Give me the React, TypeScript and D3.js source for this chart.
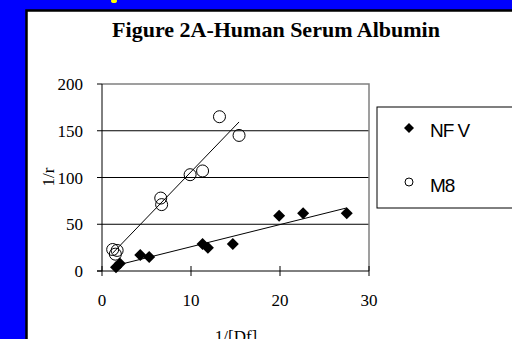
import React from "react";
import * as d3 from "d3";

// Series: NFV (filled diamonds) and M8 (open circles), double-reciprocal plot
const nfvX = [1.57, 2.0, 4.3, 5.3, 11.3, 11.9, 14.7, 19.9, 22.6, 27.5];
const nfvY = [4, 8, 17, 15, 29, 25, 29, 59, 61.7, 61.7];
const m8X = [1.2, 1.7, 1.5, 6.6, 6.7, 9.9, 11.3, 13.2, 15.4];
const m8Y = [23, 22, 18, 78, 71, 103, 107, 165, 145];

const xTicks = [0, 10, 20, 30];
const yTicks = [0, 50, 100, 150, 200];
const seriesNames = ["NF V", "M8"];

const W = 512;
const H = 339;

// ordinary least-squares fit, spanning the series' own x range
function fit(xs: number[], ys: number[]) {
  const mx = d3.mean(xs) as number;
  const my = d3.mean(ys) as number;
  let sxy = 0;
  let sxx = 0;
  xs.forEach((x, i) => {
    sxy += (x - mx) * (ys[i] - my);
    sxx += (x - mx) * (x - mx);
  });
  const b = sxy / sxx;
  const a = my - b * mx;
  const [x0, x1] = d3.extent(xs) as [number, number];
  return [
    [x0, a + b * x0],
    [x1, a + b * x1],
  ];
}

export default function App() {
  const x = d3.scaleLinear().domain([0, 30]).range([102, 369]);
  const y = d3.scaleLinear().domain([0, 200]).range([271, 84]);
  const line = d3
    .line<number[]>()
    .x((d) => x(d[0]))
    .y((d) => y(d[1]));

  const nfvFit = fit(nfvX, nfvY);
  const m8Fit = fit(m8X, m8Y);

  const serif = "'Liberation Serif', 'Times New Roman', serif";
  const sans = "'Liberation Sans', Arial, sans-serif";

  const diamond = (cx: number, cy: number, r: number) =>
    `M${cx},${cy - r}L${cx + r},${cy}L${cx},${cy + r}L${cx - r},${cy}Z`;

  return (
    <div style={{ position: "fixed", left: 0, top: 0 }}>
      <svg width={W} height={H} style={{ display: "block" }}>
        <rect x={0} y={0} width={W} height={H} fill="#0000ff" />
        <ellipse cx={114} cy={1} rx={3} ry={2} fill="#ffff00" />
        <rect
          x={26.5}
          y={10.5}
          width={W + 10}
          height={H + 10}
          fill="#ffffff"
          stroke="#000000"
          strokeWidth={2.5}
        />

        <text
          x={276}
          y={37}
          textAnchor="middle"
          fontFamily={serif}
          fontWeight="bold"
          fontSize={22}
          fill="#000"
        >
          Figure 2A-Human Serum Albumin
        </text>

        {/* gridlines */}
        {yTicks.slice(1, -1).map((t) => (
          <line
            key={"g" + t}
            x1={x(0)}
            x2={x(30)}
            y1={y(t)}
            y2={y(t)}
            stroke="#000"
            strokeWidth={1}
          />
        ))}
        {/* plot area border (top/right) */}
        <path
          d={`M${x(0)},${y(200)}H${x(30)}V${y(0)}`}
          fill="none"
          stroke="#808080"
          strokeWidth={1.5}
        />

        {/* axes */}
        <line x1={x(0)} x2={x(0)} y1={y(0)} y2={y(200)} stroke="#000" />
        <line x1={x(0) - 5} x2={x(30)} y1={y(0)} y2={y(0)} stroke="#000" />
        {yTicks.map((t) => (
          <g key={"y" + t}>
            <line x1={x(0) - 5} x2={x(0)} y1={y(t)} y2={y(t)} stroke="#000" />
            <text
              x={83}
              y={y(t) + 6}
              textAnchor="end"
              fontFamily={serif}
              fontSize={17}
              fill="#000"
            >
              {t}
            </text>
          </g>
        ))}
        {xTicks.map((t) => (
          <g key={"x" + t}>
            <line x1={x(t)} x2={x(t)} y1={y(0) - 5} y2={y(0) + 5} stroke="#000" />
            <text
              x={x(t)}
              y={306}
              textAnchor="middle"
              fontFamily={serif}
              fontSize={17}
              fill="#000"
            >
              {t}
            </text>
          </g>
        ))}

        <text
          transform={`translate(54,177) rotate(-90)`}
          textAnchor="middle"
          fontFamily={serif}
          fontSize={17}
          fill="#000"
        >
          1/r
        </text>
        <text
          x={236}
          y={342}
          textAnchor="middle"
          fontFamily={serif}
          fontSize={17}
          fill="#000"
        >
          1/[Df]
        </text>

        {/* trend lines */}
        <path d={line(nfvFit) as string} fill="none" stroke="#000" strokeWidth={1} />
        <path d={line(m8Fit) as string} fill="none" stroke="#000" strokeWidth={1} />

        {/* markers */}
        {nfvX.map((v, i) => (
          <path key={"n" + i} d={diamond(x(v), y(nfvY[i]), 6)} fill="#000" />
        ))}
        {m8X.map((v, i) => (
          <circle
            key={"m" + i}
            cx={x(v)}
            cy={y(m8Y[i])}
            r={6}
            fill="none"
            stroke="#000"
            strokeWidth={1}
          />
        ))}

        {/* legend */}
        <rect
          x={377}
          y={107}
          width={150}
          height={101}
          fill="#fff"
          stroke="#000"
          strokeWidth={1}
        />
        <path d={diamond(409, 128, 5)} fill="#000" />
        <circle cx={409} cy={182} r={4} fill="none" stroke="#000" strokeWidth={1} />
        <text
          x={430}
          y={137}
          fontFamily={sans}
          fontSize={19}
          letterSpacing={-1}
          fill="#000"
        >
          {seriesNames[0]}
        </text>
        <text
          x={430}
          y={192}
          fontFamily={sans}
          fontSize={19}
          letterSpacing={-1}
          fill="#000"
        >
          {seriesNames[1]}
        </text>
      </svg>
    </div>
  );
}
